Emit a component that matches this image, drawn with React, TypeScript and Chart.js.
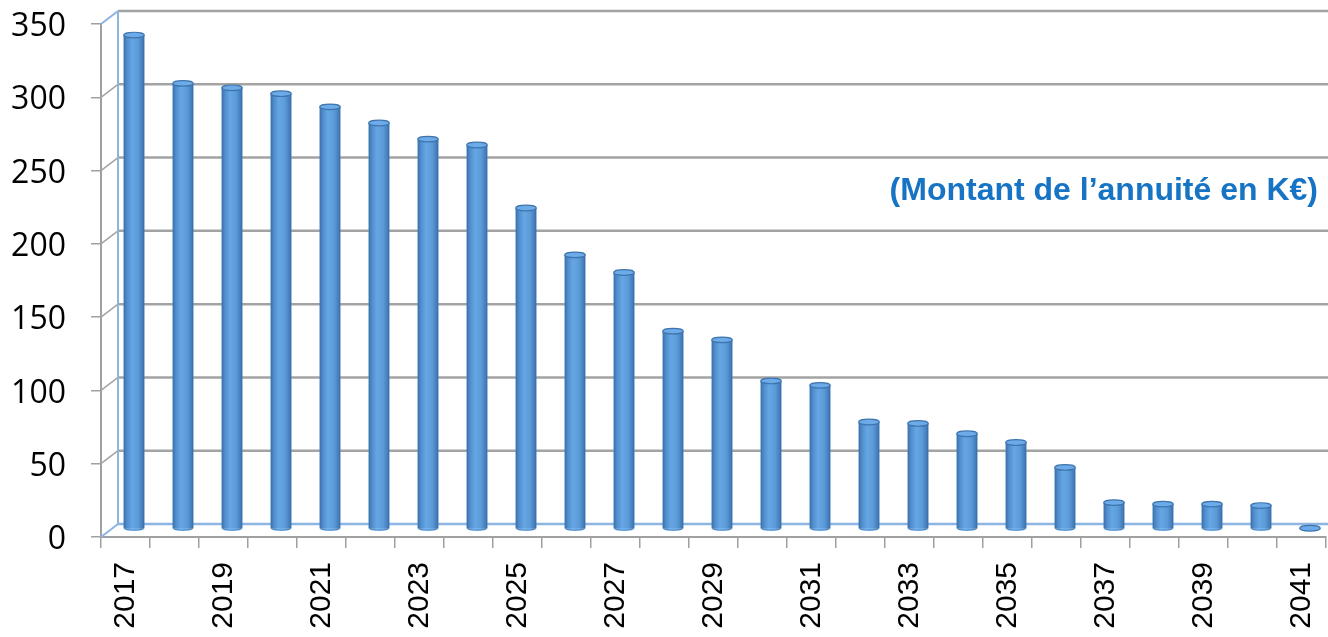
import React, { useEffect, useRef } from "react";
import { Chart, registerables } from "chart.js";

Chart.register(...registerables);

const years: string[] = [
  "2017", "2018", "2019", "2020", "2021", "2022", "2023", "2024", "2025",
  "2026", "2027", "2028", "2029", "2030", "2031", "2032", "2033", "2034",
  "2035", "2036", "2037", "2038", "2039", "2040", "2041",
];

const annuite: number[] = [
  337, 304, 301, 297, 288, 277, 266, 262, 219, 187, 175, 135, 129, 101, 98,
  73, 72, 65, 59, 42, 18, 17, 17, 16, 0.5,
];

const yTicks: number[] = [0, 50, 100, 150, 200, 250, 300, 350];
const noteText = "(Montant de l\u2019annuit\u00e9 en K\u20ac)";

const DEPTH_X = 17;
const DEPTH_Y = -13;
const BAR_DX = 8.5;
const BAR_DY = -8;

const wallPlugin = {
  id: "wall3d",
  beforeDatasetsDraw(chart: any) {
    const { ctx, chartArea } = chart;
    const ys = chart.scales.y;
    const left = chartArea.left;
    const gridGray = "#A3A3A3";
    const wallBlue = "#8DB5E2";
    ctx.save();
    ctx.lineCap = "butt";
    yTicks.forEach((v) => {
      const yf = ys.getPixelForValue(v);
      const yb = yf + DEPTH_Y;
      ctx.beginPath();
      ctx.lineWidth = 2.5;
      ctx.strokeStyle = v === 0 ? wallBlue : gridGray;
      ctx.moveTo(left + DEPTH_X, yb);
      ctx.lineTo(chart.width, yb);
      ctx.stroke();
      ctx.beginPath();
      ctx.lineWidth = v === 0 || v === 350 ? 2 : 1.5;
      ctx.strokeStyle = v === 0 || v === 350 ? wallBlue : gridGray;
      ctx.moveTo(left, yf);
      ctx.lineTo(left + DEPTH_X, yb);
      ctx.stroke();
    });
    const yTop = ys.getPixelForValue(350) + DEPTH_Y;
    const yBot = ys.getPixelForValue(0) + DEPTH_Y;
    ctx.beginPath();
    ctx.lineWidth = 2;
    ctx.strokeStyle = wallBlue;
    ctx.moveTo(left + DEPTH_X, yTop);
    ctx.lineTo(left + DEPTH_X, yBot);
    ctx.stroke();
    ctx.restore();

    ctx.save();
    ctx.translate(BAR_DX, BAR_DY);
  },
  afterDatasetsDraw(chart: any) {
    const { ctx } = chart;
    const meta = chart.getDatasetMeta(0);
    meta.data.forEach((el: any) => {
      const { x, y, base, width } = el.getProps(["x", "y", "base", "width"], true);
      const l = x - width / 2;
      const r = x + width / 2;
      const ry = 2.8;
      const g = ctx.createLinearGradient(l, 0, r, 0);
      g.addColorStop(0, "#3B6FA6");
      g.addColorStop(0.15, "#4F8CCB");
      g.addColorStop(0.4, "#66A6E4");
      g.addColorStop(0.7, "#5B9BD8");
      g.addColorStop(0.9, "#4680BE");
      g.addColorStop(1, "#386BA2");
      ctx.fillStyle = g;
      ctx.fillRect(l, y, width, base - y);
      ctx.beginPath();
      ctx.ellipse(x, base, width / 2, ry, 0, 0, Math.PI);
      ctx.fill();
      ctx.beginPath();
      ctx.ellipse(x, y, width / 2, ry, 0, 0, Math.PI * 2);
      ctx.fillStyle = "#6CABE8";
      ctx.fill();
      ctx.lineWidth = 1.2;
      ctx.strokeStyle = "#3E75AE";
      ctx.stroke();
    });
    ctx.restore();

    ctx.save();
    ctx.font = "bold 32px 'Liberation Sans', Arial, sans-serif";
    ctx.fillStyle = "#1774C4";
    ctx.textAlign = "right";
    ctx.textBaseline = "middle";
    ctx.fillText(noteText, 1318, 191);
    ctx.restore();
  },
};

export default function App() {
  const canvasRef = useRef<HTMLCanvasElement | null>(null);

  useEffect(() => {
    if (!canvasRef.current) return;
    const chart = new Chart(canvasRef.current, {
      type: "bar",
      data: {
        labels: years,
        datasets: [
          {
            data: annuite,
            backgroundColor: "#5B9BD5",
            borderWidth: 0,
            categoryPercentage: 1,
            barPercentage: 0.42,
          },
        ],
      },
      options: {
        animation: false,
        responsive: true,
        maintainAspectRatio: false,
        layout: { padding: { top: 24, right: 2, left: 0, bottom: 0 } },
        plugins: { legend: { display: false }, tooltip: { enabled: false } },
        scales: {
          x: {
            afterFit: (scale: any) => {
              scale.height = 100;
              scale.paddingLeft = 0;
              scale.paddingRight = 0;
            },
            grid: {
              drawOnChartArea: false,
              drawTicks: true,
              tickLength: 11,
              color: "#A0A0A0",
              lineWidth: 1.5,
            },
            border: { display: true, color: "#A0A0A0", width: 2 },
            ticks: {
              autoSkip: false,
              maxRotation: 90,
              minRotation: 90,
              padding: 14,
              color: "#000",
              font: { family: "'Liberation Sans', Arial, sans-serif", size: 30 },
              callback: (_v: any, i: number) => (i % 2 === 0 ? years[i] : ""),
            },
          },
          y: {
            min: 0,
            max: 350,
            afterFit: (scale: any) => {
              scale.width = 101;
              scale.paddingTop = 0;
              scale.paddingBottom = 0;
            },
            grid: {
              drawOnChartArea: false,
              drawTicks: true,
              tickLength: 10,
              color: "#A0A0A0",
              lineWidth: 1.5,
            },
            border: { display: true, color: "#A0A0A0", width: 2 },
            ticks: {
              stepSize: 50,
              padding: 25,
              labelOffset: 3,
              color: "#000",
              font: { family: "'Open Sans', sans-serif", size: 32 },
            },
          },
        },
      },
      plugins: [wallPlugin],
    });
    return () => chart.destroy();
  }, []);

  return (
    <div style={{ position: "fixed", left: 0, top: 0, width: 1328, height: 637, background: "#fff" }}>
      <canvas ref={canvasRef} />
    </div>
  );
}
